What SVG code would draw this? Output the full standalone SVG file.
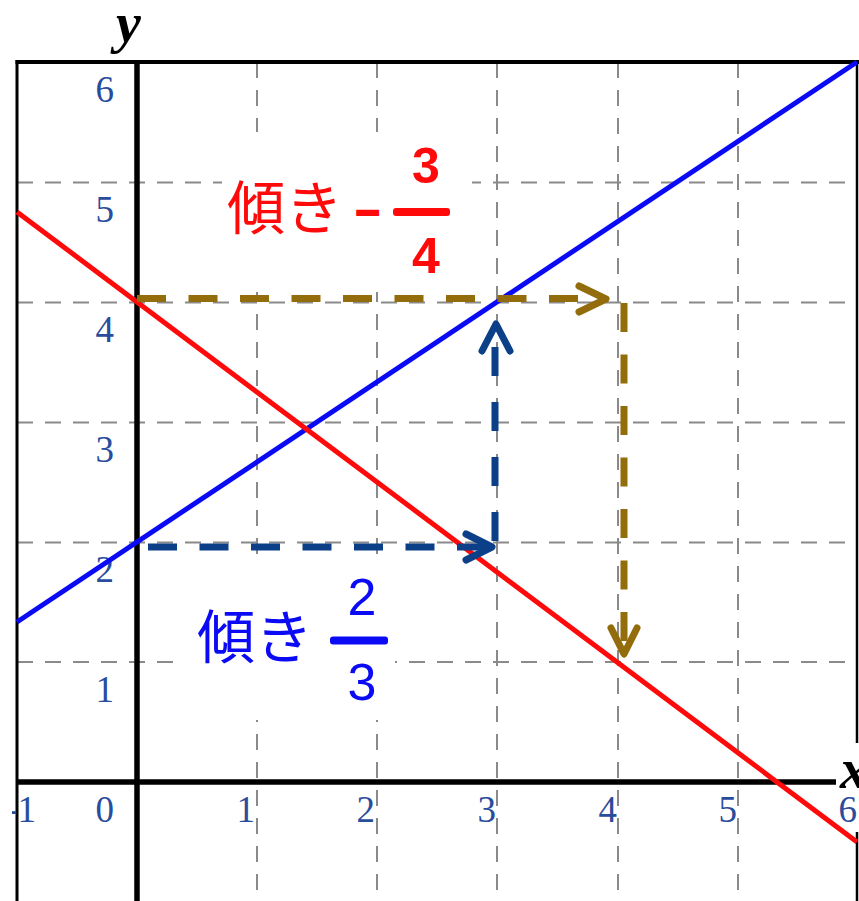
<svg xmlns="http://www.w3.org/2000/svg" width="859" height="901" viewBox="0 0 859 901">
  <style>
    .grid { stroke: #8a8a8a; stroke-width: 2; stroke-dasharray: 16 12; fill: none; }
    .frame { stroke: #000; fill: none; }
    .axis { stroke: #000; stroke-width: 5.5; fill: none; }
    .tick { font-family: "Liberation Serif", "DejaVu Serif", serif; font-size: 37px; fill: #2a4c9c; }
    .axlabel { font-family: "Liberation Serif", serif; font-size: 56px; font-weight: bold; font-style: italic; fill: #000; }
    .jp { font-family: "Noto Sans CJK JP", sans-serif; font-size: 58px; }
    .brown { stroke: #936c0b; stroke-width: 7; fill: none; }
    .navy { stroke: #0b3f88; stroke-width: 7; fill: none; }
    .dash { stroke-dasharray: 29 22.5; }
    .head { stroke-linecap: round; stroke-linejoin: round; }
  </style>
  <defs>
    <clipPath id="clipMinus"><rect x="12" y="780" width="60" height="60"/></clipPath>
  </defs>
  <rect x="0" y="0" width="859" height="901" fill="#fff"/>

  <g id="grid">
    <line class="grid" x1="17" y1="182.5" x2="857" y2="182.5"/>
    <line class="grid" x1="17" y1="302.5" x2="857" y2="302.5"/>
    <line class="grid" x1="17" y1="422.5" x2="857" y2="422.5"/>
    <line class="grid" x1="17" y1="542.5" x2="857" y2="542.5"/>
    <line class="grid" x1="17" y1="662" x2="857" y2="662"/>
    <line class="grid" x1="257" y1="62" x2="257" y2="901"/>
    <line class="grid" x1="377" y1="62" x2="377" y2="901"/>
    <line class="grid" x1="497" y1="62" x2="497" y2="901"/>
    <line class="grid" x1="618" y1="62" x2="618" y2="901"/>
    <line class="grid" x1="738" y1="62" x2="738" y2="901"/>
  </g>

  <g id="frame">
    <line class="frame" stroke-width="3" x1="17" y1="60" x2="17" y2="901"/>
    <line class="frame" stroke-width="4" x1="15.5" y1="62" x2="859" y2="62"/>
    <line class="frame" stroke-width="2.5" x1="857" y1="62" x2="857" y2="901"/>
  </g>

  <g id="axes">
    <line class="axis" x1="17" y1="782" x2="836" y2="782"/>
    <line class="axis" x1="137" y1="62" x2="137" y2="901"/>
  </g>

  <g id="label-masks" fill="#fff">
    <rect x="222" y="132" width="250" height="160"/>
    <rect x="175" y="562" width="220" height="158"/>
    <rect x="836" y="743" width="23" height="89"/>
  </g>

  <g id="tick-labels" class="tick">
    <text x="114" y="102" text-anchor="end">6</text>
    <text x="114" y="222" text-anchor="end">5</text>
    <text x="114" y="342" text-anchor="end">4</text>
    <text x="114" y="462" text-anchor="end">3</text>
    <text x="114" y="582" text-anchor="end">2</text>
    <text x="114" y="702" text-anchor="end">1</text>
    <text x="114" y="822" text-anchor="end">0</text>
    <text x="36" y="822" text-anchor="end" clip-path="url(#clipMinus)">-1</text>
    <text x="255" y="822" text-anchor="end">1</text>
    <text x="375" y="822" text-anchor="end">2</text>
    <text x="496" y="822" text-anchor="end">3</text>
    <text x="617" y="822" text-anchor="end">4</text>
    <text x="737" y="822" text-anchor="end">5</text>
    <text x="857" y="822" text-anchor="end">6</text>
  </g>

  <g id="axis-labels" class="axlabel">
    <text x="116" y="42">y</text>
    <text x="840" y="788">x</text>
  </g>

  <g id="lines" fill="none" stroke-width="5">
    <line x1="17" y1="622" x2="857" y2="62" stroke="#0a0af5"/>
    <line x1="17" y1="212" x2="857" y2="842" stroke="#ff0a0a"/>
  </g>

  <g id="connectors">
    <g id="brown-right">
      <line class="brown dash" x1="137" y1="298.5" x2="590" y2="298.5"/>
      <polyline class="brown head" points="579,286 606,299 579,312"/>
    </g>
    <g id="brown-down">
      <line class="brown dash" x1="624" y1="303" x2="624" y2="645"/>
      <polyline class="brown head" points="611,628 624,654 637,628"/>
    </g>
    <g id="navy-right">
      <line class="navy dash" x1="148" y1="547" x2="485" y2="547"/>
      <polyline class="navy head" points="466,534 492,547 466,560"/>
    </g>
    <g id="navy-up">
      <line class="navy" stroke-dasharray="29 26" x1="495" y1="541" x2="495" y2="335"/>
      <polyline class="navy head" points="482,351 496,324 510,351"/>
    </g>
  </g>

  <g id="label-red" fill="#ff0a0a">
    <text class="jp" x="227" y="229">傾き</text>
    <text x="356" y="224" font-family="Liberation Sans, sans-serif" font-size="42" font-weight="bold" stroke="#ff0a0a" stroke-width="2">–</text>
    <rect x="393" y="208" width="57" height="8" rx="3"/>
    <text x="426" y="183" text-anchor="middle" font-family="Liberation Sans, sans-serif" font-size="50" font-weight="bold">3</text>
    <text x="426" y="273" text-anchor="middle" font-family="Liberation Sans, sans-serif" font-size="50" font-weight="bold">4</text>
  </g>

  <g id="label-blue" fill="#0a0af5">
    <text class="jp" x="197" y="658">傾き</text>
    <rect x="330" y="636.5" width="58" height="8" rx="3"/>
    <text x="362" y="615" text-anchor="middle" font-family="Liberation Sans, sans-serif" font-size="52">2</text>
    <text x="362" y="700" text-anchor="middle" font-family="Liberation Sans, sans-serif" font-size="52">3</text>
  </g>
</svg>
